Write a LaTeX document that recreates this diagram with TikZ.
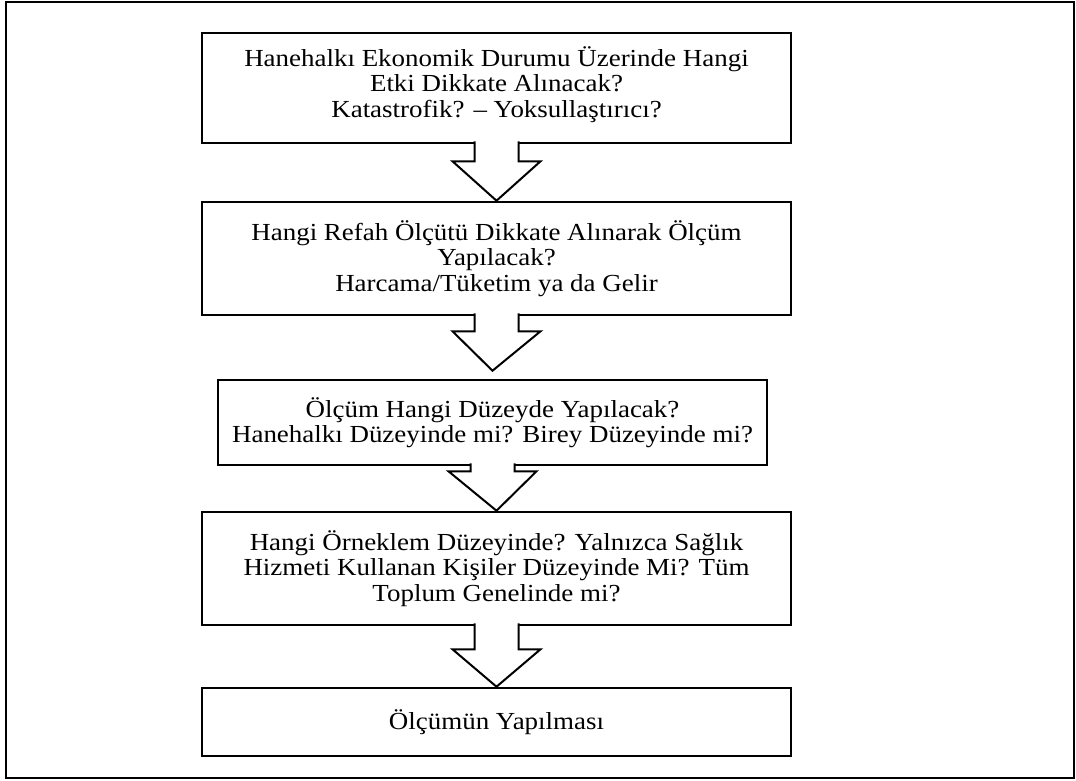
\documentclass[tikz,border=0pt]{standalone}
\usepackage{fontspec}
\setmainfont{Liberation Serif}[FakeStretch=1.1]
\usetikzlibrary{calc}
\begin{document}
\begin{tikzpicture}[x=1pt,y=-1pt,
  box/.style={draw,line width=2.6pt,align=center,inner sep=0pt,font=\fontsize{24.5}{25.5}\selectfont},
  bigarrow/.style={draw,fill=white,line width=2pt,line join=miter}]
\useasboundingbox (0,0) rectangle (1076,780);
\draw[line width=2pt] (6,2) rectangle (1074,778);
\node[box,minimum width=589pt,minimum height=110pt] (b1) at (496.5,88) {Hanehalkı Ekonomik Durumu Üzerinde Hangi\\Etki Dikkate Alınacak?\\Katastrofik? – Yoksullaştırıcı?\rule[-12pt]{0pt}{1pt}};
\node[box,minimum width=589pt,minimum height=113pt] (b2) at (496.5,258.5) {Hangi Refah Ölçütü Dikkate Alınarak Ölçüm\\Yapılacak?\\Harcama/Tüketim ya da Gelir};
\node[box,minimum width=549pt,minimum height=85pt] (b3) at (492.5,422.5) {Ölçüm Hangi Düzeyde Yapılacak?\\Hanehalkı Düzeyinde mi? Birey Düzeyinde mi?};
\node[box,minimum width=589pt,minimum height=113pt] (b4) at (496.5,568.5) {Hangi Örneklem Düzeyinde? Yalnızca Sağlık\\Hizmeti Kullanan Kişiler Düzeyinde Mi? Tüm\\Toplum Genelinde mi?};
\node[box,minimum width=589pt,minimum height=68pt] (b5) at (496.5,722) {Ölçümün Yapılması};
\draw[bigarrow] ($(b1.south)+(-22,-3)$) -- ($(b1.south)+(-22,17)$) -- ($(b1.south)+(-44,17)$) -- (b2.north) -- ($(b1.south)+(44,17)$) -- ($(b1.south)+(22,17)$) -- ($(b1.south)+(22,-3)$);
\draw[bigarrow] ($(b2.south)+(-22,-3)$) -- ($(b2.south)+(-22,15)$) -- ($(b2.south)+(-44,15)$) -- ($(b3.north)+(0,-8)$) -- ($(b2.south)+(44,15)$) -- ($(b2.south)+(22,15)$) -- ($(b2.south)+(22,-3)$);
\draw[bigarrow] ($(b3.south)+(-22,-3)$) -- ($(b3.south)+(-22,5)$) -- ($(b3.south)+(-44,5)$) -- (b4.north) -- ($(b3.south)+(44,5)$) -- ($(b3.south)+(22,5)$) -- ($(b3.south)+(22,-3)$);
\draw[bigarrow] ($(b4.south)+(-22,-3)$) -- ($(b4.south)+(-22,23)$) -- ($(b4.south)+(-44,23)$) -- (b5.north) -- ($(b4.south)+(44,23)$) -- ($(b4.south)+(22,23)$) -- ($(b4.south)+(22,-3)$);
\end{tikzpicture}
\end{document}
